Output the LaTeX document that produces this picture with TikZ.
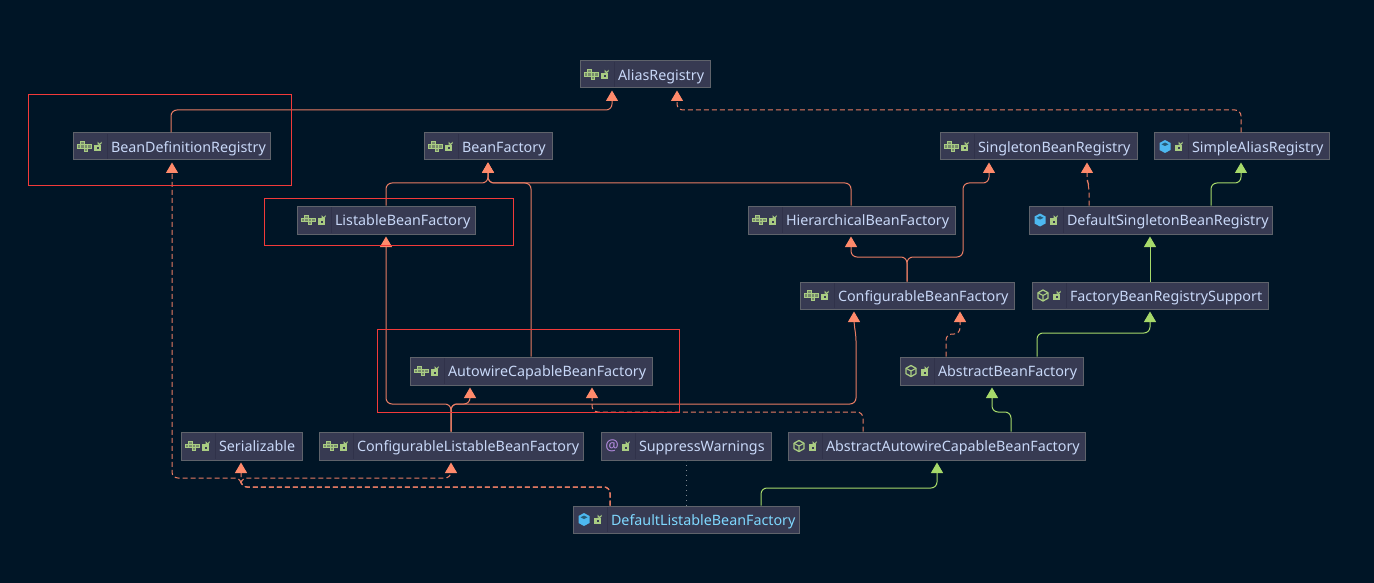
\documentclass[tikz,border=0pt]{standalone}
\usepackage{fontspec}
\setmainfont{Noto Sans}
\usetikzlibrary{arrows.meta}
\definecolor{bgc}{HTML}{001526}
\definecolor{boxc}{HTML}{373A52}
\definecolor{edgec}{HTML}{5F636B}
\definecolor{sepc}{HTML}{30324A}
\definecolor{textc}{HTML}{C8D8F8}
\definecolor{cyanc}{HTML}{7FD8FF}
\definecolor{linec}{HTML}{E87C64}
\definecolor{tipc}{HTML}{FF8A6B}
\definecolor{greenc}{HTML}{A6D96A}
\definecolor{iconc}{HTML}{A9CC82}
\definecolor{bluec}{HTML}{4DB8F0}
\definecolor{purplec}{HTML}{B48BE0}
\definecolor{redc}{HTML}{F23A3A}
\definecolor{dotc}{HTML}{7F8790}
\tikzset{
  x=1pt,y=-1pt,
  classbox/.style={draw=edgec,fill=boxc,line width=1pt,inner sep=0pt,font=\fontsize{14.3}{16}\selectfont},
  redframe/.style={draw=redc,line width=1pt},
  ext/.style={draw=linec,line width=1pt,rounded corners=6pt,shorten >=2pt,-{Triangle[width=12pt,length=10.5pt,color=tipc]}},
  impl/.style={ext,dash pattern=on 5pt off 3pt},
  extg/.style={draw=greenc,line width=1pt,rounded corners=6pt,shorten >=2pt,-{Triangle[width=12pt,length=10.5pt,color=greenc]}},
  dotl/.style={draw=dotc,line width=1pt,dash pattern=on 1pt off 4pt},
}
% icons, drawn around (0,0) = box left edge, vertical centre
\newcommand\lockicon{%
  \fill[iconc] (21,-1.8) rectangle (28,4.6);
  \fill[boxc] (24,.5) rectangle (25.5,2.5);
  \draw[iconc,line width=1pt] (25,-1.8) -- (25,-3.6) arc[start angle=180,end angle=0,radius=1.6] -- (28.2,-2.8);
}
\newcommand\ifaceicon{%
  \foreach \a/\b in {4/-1.7,7.5/-1.7,11/-1.7,14.5/-1.7,7.5/-5,11/1.6}{\draw[iconc,line width=.9pt,fill=iconc!55!boxc] (\a,\b) rectangle ++(3.5,3.3);}
  \lockicon
}
\newcommand\classicon{%
  \fill[bluec] (11,-6.5) -- (16.5,-3.5) -- (16.5,3.5) -- (11,6.5) -- (5.5,3.5) -- (5.5,-3.5) -- cycle;
  \fill[bluec!50!black] (11,-4) -- (14.5,-2.2) -- (11,-.5) -- (7.5,-2.2) -- cycle;
  \lockicon
}
\newcommand\abstracticon{%
  \draw[iconc,line width=1.3pt,line join=round] (11,-5.5) -- (16,-2.7) -- (16,2.7) -- (11,5.5) -- (6,2.7) -- (6,-2.7) -- cycle;
  \draw[iconc,line width=1.1pt] (6,-2.7) -- (11,0) -- (16,-2.7) (11,0) -- (11,5.5);
  \lockicon
}
\newcommand\annoticon{%
  \node[inner sep=0pt,text=purplec,font=\fontsize{15}{16}\selectfont] at (11,-.5) {@};
  \lockicon
}
% name, x1, y1, x2, y2, icon macro, text colour, text
\newcommand\cls[8]{%
  \pgfmathsetmacro\boxw{#4-#2}\pgfmathsetmacro\boxh{#5-#3}%
  \pgfmathsetmacro\boxcx{(#2+#4)/2}\pgfmathsetmacro\boxcy{(#3+#5)/2}%
  \node[classbox,minimum width=\boxw pt,minimum height=\boxh pt,text=#7] (#1) at (\boxcx,\boxcy)
    {\makebox[\boxw pt][l]{\hspace{38pt}\raisebox{-5.6pt}[0pt][0pt]{#8}}};
  \begin{scope}[shift={(#2,\boxcy)}]
    \draw[sepc,line width=1pt] (34,-\boxh/2+1) -- (34,\boxh/2-1);
    #6
  \end{scope}
}
\begin{document}
\begin{tikzpicture}
\useasboundingbox (0,0) rectangle (1374,583);
\fill[bgc] (0,0) rectangle (1374,583);
% nodes
\cls{alias}{580}{61}{710}{88}{\ifaceicon}{textc}{AliasRegistry}
\cls{bdr}{73}{133}{270}{160}{\ifaceicon}{textc}{BeanDefinitionRegistry}
\cls{bf}{424}{133}{552}{160}{\ifaceicon}{textc}{BeanFactory}
\cls{sbr}{940}{133}{1137}{160}{\ifaceicon}{textc}{SingletonBeanRegistry}
\cls{sar}{1154}{133}{1329}{160}{\classicon}{textc}{SimpleAliasRegistry}
\cls{lbf}{297}{206}{475}{234}{\ifaceicon}{textc}{ListableBeanFactory}
\cls{hbf}{748}{206}{955}{234}{\ifaceicon}{textc}{HierarchicalBeanFactory}
\cls{dsbr}{1029}{206}{1272}{234}{\classicon}{textc}{DefaultSingletonBeanRegistry}
\cls{cbf}{800}{282}{1014}{309}{\ifaceicon}{textc}{ConfigurableBeanFactory}
\cls{fbrs}{1032}{282}{1268}{309}{\abstracticon}{textc}{FactoryBeanRegistrySupport}
\cls{acbf}{410}{357}{652}{385}{\ifaceicon}{textc}{AutowireCapableBeanFactory}
\cls{abf}{900}{357}{1083}{385}{\abstracticon}{textc}{AbstractBeanFactory}
\cls{ser}{181}{432}{302}{460}{\ifaceicon}{textc}{Serializable}
\cls{clbf}{319}{432}{583}{460}{\ifaceicon}{textc}{ConfigurableListableBeanFactory}
\cls{sw}{601}{432}{771}{460}{\annoticon}{textc}{SuppressWarnings}
\cls{aacbf}{788}{432}{1085}{460}{\abstracticon}{textc}{AbstractAutowireCapableBeanFactory}
\cls{dlbf}{573}{506}{799}{533}{\classicon}{cyanc}{DefaultListableBeanFactory}
% connectors
\draw[ext] (bdr.north -| 171,0) -- (171,110) -- (612,110) -- (alias.south -| 612,0);
\draw[impl] (sar.north -| 1241,0) -- (1241,110) -- (677,110) -- (alias.south -| 677,0);
\draw[ext] (lbf.north -| 386,0) -- (386,183) -- (488,183) -- (bf.south -| 488,0);
\draw[ext] (hbf.north -| 851,0) -- (851,183) -- (488,183) -- (bf.south -| 488,0);
\draw[ext] (acbf.north -| 531,0) -- (531,183) -- (488,183) -- (bf.south -| 488,0);
\draw[ext] (cbf.north -| 907,0) -- (907,257) -- (851,257) -- (hbf.south -| 851,0);
\draw[ext] (cbf.north -| 907,0) -- (907,257) -- (963,257) -- (963,183) -- (989,183) -- (sbr.south -| 989,0);
\draw[impl] (dsbr.north -| 1089,0) -- (1089,186) -- (1087,180) -- (sbr.south -| 1087,0);
\draw[extg] (dsbr.north -| 1211,0) -- (1211,183) -- (1241,183) -- (sar.south -| 1241,0);
\draw[extg] (fbrs.north -| 1150,0) -- (dsbr.south -| 1150,0);
\draw[extg] (abf.north -| 1037,0) -- (1037,333) -- (1150,333) -- (fbrs.south -| 1150,0);
\draw[impl] (abf.north -| 946,0) -- (946,334) -- (960,334) -- (cbf.south -| 960,0);
\draw[extg] (aacbf.north -| 1011,0) -- (1011,412) -- (992,412) -- (abf.south -| 992,0);
\draw[impl] (aacbf.north -| 863,0) -- (863,412) -- (592,412) -- (acbf.south -| 592,0);
\draw[ext] (clbf.north -| 451,0) -- (451,404) -- (470,404) -- (acbf.south -| 470,0);
\draw[ext] (clbf.north -| 451,0) -- (451,404) -- (386,404) -- (lbf.south -| 386,0);
\draw[ext] (clbf.north -| 451,0) -- (451,404) -- (856,404) -- (856,335) -- (854,325) -- (cbf.south -| 854,0);
\draw[impl] (dlbf.north -| 610,0) -- (610,487) -- (241,487) -- (ser.south -| 241,0);
\draw[impl] (dlbf.north -| 610,0) -- (610,487) -- (241,487) -- (241,478) -- (451,478) -- (clbf.south -| 451,0);
\draw[impl] (dlbf.north -| 610,0) -- (610,487) -- (241,487) -- (241,478) -- (172,478) -- (bdr.south -| 172,0);
\draw[extg] (dlbf.north -| 761,0) -- (761,488) -- (937,488) -- (aacbf.south -| 937,0);
\draw[dotl] (dlbf.north -| 686,0) -- (sw.south -| 686,0);
% highlight frames
\draw[redframe] (28.5,94.5) rectangle (291.5,185.5);
\draw[redframe] (264.5,198.5) rectangle (513.5,245.5);
\draw[redframe] (377.5,329.5) rectangle (679.5,412.5);
\end{tikzpicture}
\end{document}
